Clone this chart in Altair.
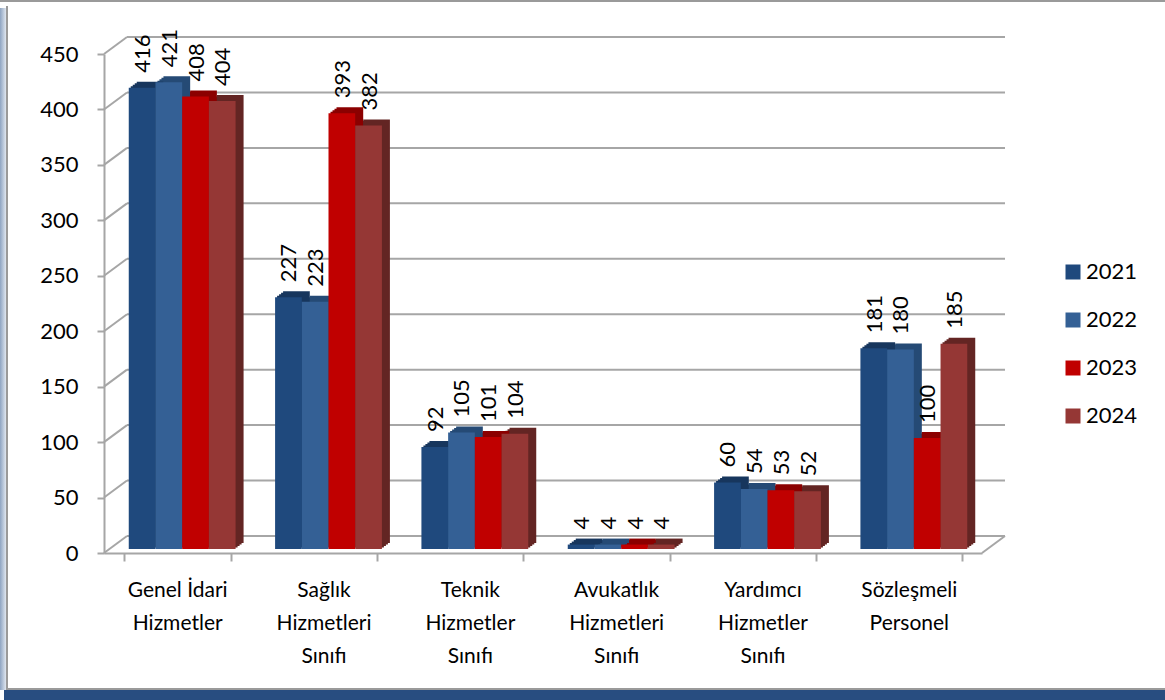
import altair as alt
import pandas as pd

# --- data -------------------------------------------------------------
categories = [
    "Genel İdari\nHizmetler",
    "Sağlık\nHizmetleri\nSınıfı",
    "Teknik\nHizmetler\nSınıfı",
    "Avukatlık\nHizmetleri\nSınıfı",
    "Yardımcı\nHizmetler\nSınıfı",
    "Sözleşmeli\nPersonel",
]
years = ["2021", "2022", "2023", "2024"]
values_2021 = [416, 227, 92, 4, 60, 181]
values_2022 = [421, 223, 105, 4, 54, 180]
values_2023 = [408, 393, 101, 4, 53, 100]
values_2024 = [404, 382, 104, 4, 52, 185]
y_ticks = [0, 50, 100, 150, 200, 250, 300, 350, 400, 450]

front_colors = ["#1f497d", "#346095", "#c00000", "#953735"]
side_colors = ["#17365d", "#254a75", "#8b0000", "#632523"]

series = [values_2021, values_2022, values_2023, values_2024]
rows = []
for yi, (yr, vals) in enumerate(zip(years, series)):
    for cat, v in zip(categories, vals):
        rows.append({"kategori": cat, "yil": yr, "deger": v, "yan": side_colors[yi]})
df = pd.DataFrame(rows)
ticks_df = pd.DataFrame({"deger": y_ticks})

W, H = 878, 499
FONT = "Lato"
GRID = "#a6a6a6"
DX, DY = 23, -17          # depth of the back wall
PAD_IN = 0.27
STEP = W / (len(categories) - PAD_IN + 2 * PAD_IN / 2)
BAND = STEP * (1 - PAD_IN)   # width of one group of four bars

x_enc = alt.X(
    "kategori:N",
    sort=categories,
    scale=alt.Scale(paddingInner=PAD_IN, paddingOuter=PAD_IN / 2),
    axis=alt.Axis(
        title=None,
        labelAngle=0,
        labelExpr="isValid(datum.value) ? split(datum.value, '\\n') : ''",
        labelFont=FONT,
        labelFontSize=21,
        labelColor="#000000",
        labelLineHeight=33,
        labelPadding=18,
        tickBand="extent",
        tickSize=8,
        tickColor=GRID,
        tickWidth=2,
        domainColor=GRID,
        domainWidth=2,
        grid=False,
    ),
)


def xo_enc(shift):
    # position of each year's bar inside its group, shifted for the 3D depth
    return alt.XOffset(
        "yil:N", sort=years,
        scale=alt.Scale(type="band", range=[shift, shift + BAND], paddingInner=0, paddingOuter=0),
    )


def xo_center(shift):
    # centre of each year's bar inside its group
    return alt.XOffset(
        "yil:N", sort=years,
        scale=alt.Scale(type="point", range=[shift, shift + BAND], padding=0.5),
    )


y_scale = alt.Scale(domain=[0, 450], nice=False)
y_enc = alt.Y(
    "deger:Q",
    scale=y_scale,
    axis=alt.Axis(
        title=None,
        values=y_ticks,
        labelFont=FONT,
        labelFontSize=22,
        labelColor="#000000",
        labelPadding=19,
        tickSize=7,
        tickColor=GRID,
        tickWidth=2,
        domainColor=GRID,
        domainWidth=2,
        grid=False,
    ),
)

# back wall grid lines and left wall connectors
grid = alt.Chart(ticks_df).mark_rule(color=GRID, strokeWidth=2, yOffset=DY).encode(
    y=y_enc,
    x=alt.value(DX),
    x2=alt.value(W + DX),
)
wall = alt.Chart(ticks_df).mark_rule(color=GRID, strokeWidth=2, y2Offset=DY).encode(
    y=y_enc,
    y2=alt.Y2("deger:Q"),
    x=alt.value(0),
    x2=alt.value(DX),
)
floor_edge = alt.Chart(pd.DataFrame({"deger": [0]})).mark_rule(
    color=GRID, strokeWidth=2, y2Offset=DY
).encode(
    y=y_enc,
    y2=alt.Y2("deger:Q"),
    x=alt.value(W),
    x2=alt.value(W + DX),
)

FX, FY = 5, -4   # front face of the bars relative to the front plane

# extruded depth of the bars, built from stacked shifted copies
depth_layers = []
for k in range(1, 5):
    depth_layers.append(
        alt.Chart(df)
        .mark_bar(yOffset=FY - 1.5 * k)
        .encode(x=x_enc, xOffset=xo_enc(FX + 2 * k), y=y_enc,
                color=alt.Color("yan:N", scale=None))
    )

front = alt.Chart(df).mark_bar(yOffset=FY).encode(
    x=x_enc,
    xOffset=xo_enc(FX),
    y=y_enc,
    color=alt.Color(
        "yil:N",
        sort=years,
        scale=alt.Scale(domain=years, range=front_colors),
        legend=alt.Legend(
            title=None,
            orient="none",
            legendX=958,
            legendY=207,
            symbolType="square",
            symbolSize=225,
            symbolStrokeWidth=0,
            labelFont=FONT,
            labelFontSize=22,
            labelColor="#000000",
            labelOffset=2,
            rowPadding=26,
        ),
    ),
)

# value labels, rotated, centred over each bar
labels = alt.Chart(df).mark_text(
    angle=270, align="left", baseline="middle", yOffset=FY, dx=15, dy=1,
    font=FONT, fontSize=22, color="#000000",
).encode(x=x_enc, xOffset=xo_center(FX), y=y_enc, text="deger:Q")

# outer frame of the chart
PL, PT = 104, 54
one = pd.DataFrame({"a": [0]})
frame_top = alt.Chart(one).mark_rule(color="#9a9a9a", strokeWidth=2).encode(
    x=alt.value(-PL), x2=alt.value(1165 - PL), y=alt.value(-PT + 1)
)
frame_left_shadow = alt.Chart(one).mark_rect(
    color=alt.Gradient(
        gradient="linear", x1=0, x2=1, y1=0, y2=0,
        stops=[alt.GradientStop(color="#8ea4c2", offset=0), alt.GradientStop(color="#dfe6ef", offset=1)],
    )
).encode(x=alt.value(-PL), x2=alt.value(-PL + 6), y=alt.value(-PT + 8), y2=alt.value(690 - PT))
frame_left = alt.Chart(one).mark_rule(color="#9a9a9a", strokeWidth=2).encode(
    x=alt.value(-PL + 7), y=alt.value(-PT + 6), y2=alt.value(690 - PT)
)
frame_bottom = alt.Chart(one).mark_rule(color="#9a9a9a", strokeWidth=2).encode(
    x=alt.value(-PL + 6), x2=alt.value(1165 - PL), y=alt.value(689 - PT)
)
frame_band = alt.Chart(one).mark_rect(color="#284d80").encode(
    x=alt.value(-PL + 4), x2=alt.value(1165 - PL), y=alt.value(690 - PT), y2=alt.value(700 - PT)
)

chart = (
    alt.layer(
        frame_left_shadow, frame_top, frame_left, frame_bottom, frame_band,
        grid, wall, floor_edge, *depth_layers, front, labels,
    )
    .resolve_scale(xOffset="independent")
    .properties(
        width=W,
        height=H,
        autosize=alt.AutoSizeParams(type="none"),
        padding={"left": PL, "top": PT, "right": 1165 - PL - W, "bottom": 700 - PT - H},
        background="#ffffff",
    )
    .configure_view(stroke=None)
)

chart.save("out.html", embed_options={"renderer": "svg", "actions": False})
